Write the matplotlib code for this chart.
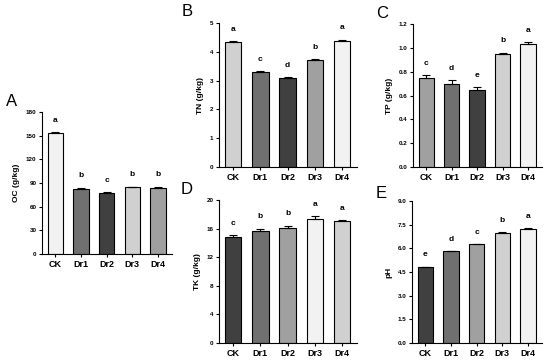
import matplotlib
matplotlib.use("Agg")
import matplotlib.pyplot as plt
import numpy as np

plt.rcParams['font.family'] = ['Liberation Sans', 'DejaVu Sans']

categories = ["CK", "Dr1", "Dr2", "Dr3", "Dr4"]

oc_vals = [153, 83, 77, 84.5, 84]
oc_err = [1.5, 1.2, 1.2, 1.0, 1.2]
oc_sig = ["a", "b", "c", "b", "b"]

tn_vals = [4.35, 3.30, 3.10, 3.70, 4.38]
tn_err = [0.02, 0.02, 0.02, 0.05, 0.04]
tn_sig = ["a", "c", "d", "b", "a"]

tp_vals = [0.75, 0.70, 0.65, 0.95, 1.03]
tp_err = [0.02, 0.03, 0.02, 0.01, 0.02]
tp_sig = ["c", "d", "e", "b", "a"]

tk_vals = [14.8, 15.7, 16.1, 17.4, 17.0]
tk_err = [0.3, 0.3, 0.3, 0.3, 0.2]
tk_sig = ["c", "b", "b", "a", "a"]

ph_vals = [4.80, 5.80, 6.25, 7.00, 7.25]
ph_err = [0.03, 0.03, 0.03, 0.02, 0.03]
ph_sig = ["e", "d", "c", "b", "a"]

W, D1, D2, L1, L2 = "#f2f2f2", "#707070", "#404040", "#d0d0d0", "#a0a0a0"

panels = [
    ("A", "OC (g/kg)", oc_vals, oc_err, oc_sig, [W, D1, D2, L1, L2], (0, 180), [0, 30, 60, 90, 120, 150, 180], "{:.0f}",
     [42/550, 1-254/362, 130/550, 142/362], (12/550, 1-102/362)),
    ("B", "TN (g/kg)", tn_vals, tn_err, tn_sig, [L1, D1, D2, L2, W], (0, 5), [0, 1, 2, 3, 4, 5], "{:.0f}",
     [219/550, 1-167/362, 138/550, 144/362], (187/550, 1-11/362)),
    ("C", "TP (g/kg)", tp_vals, tp_err, tp_sig, [L2, D1, D2, L1, W], (0, 1.2), [0, 0.2, 0.4, 0.6, 0.8, 1.0, 1.2], "{:.1f}",
     [413/550, 1-167/362, 129/550, 143/362], (382/550, 1-13/362)),
    ("D", "TK (g/kg)", tk_vals, tk_err, tk_sig, [D2, D1, L2, W, L1], (0, 20), [0, 4, 8, 12, 16, 20], "{:.0f}",
     [219/550, 1-343/362, 138/550, 143/362], (187/550, 1-190/362)),
    ("E", "pH", ph_vals, ph_err, ph_sig, [D2, D1, L2, L1, W], (0, 9), [0, 1.5, 3.0, 4.5, 6.0, 7.5, 9.0], "{:.1f}",
     [412/550, 1-343/362, 130/550, 142/362], (381/550, 1-193/362)),
]

fig = plt.figure(figsize=(5.5, 3.62), dpi=100)

for letter, ylabel, vals, errs, sigs, colors, ylim, yticks, fmt, rect, lpos in panels:
    ax = fig.add_axes(rect)
    x = np.arange(len(categories))
    ax.bar(x, vals, width=0.6, color=colors, edgecolor="black", linewidth=0.8, zorder=2)
    ax.errorbar(x, vals, yerr=[np.zeros(len(vals)), errs], fmt="none", ecolor="black",
                elinewidth=0.8, capsize=3, capthick=0.8, zorder=3)
    for xi, v, e, s in zip(x, vals, errs, sigs):
        ax.annotate(s, (xi, v + e), xytext=(0, 6), textcoords="offset points",
                    ha="center", va="bottom", fontsize=6, fontweight="bold")
    ax.set_xlim(-0.52, 4.55)
    ax.set_ylim(*ylim)
    ax.set_yticks(yticks)
    ax.set_yticklabels([fmt.format(t) for t in yticks], fontsize=4.5, fontweight="bold")
    ax.set_xticks(x)
    ax.set_xticklabels(categories, fontsize=6.5, fontweight="bold")
    ax.spines["top"].set_visible(False)
    ax.spines["right"].set_visible(False)
    ax.spines["left"].set_linewidth(0.8)
    ax.spines["bottom"].set_linewidth(0.8)
    ax.tick_params(axis="both", direction="out", length=2.5, width=0.8, pad=1.5)
    ax.set_ylabel(ylabel, fontsize=6, fontweight="bold", labelpad=4)
    fig.text(lpos[0], lpos[1], letter, fontsize=12, ha="center", va="center")

fig.savefig("out.png", dpi=100)
